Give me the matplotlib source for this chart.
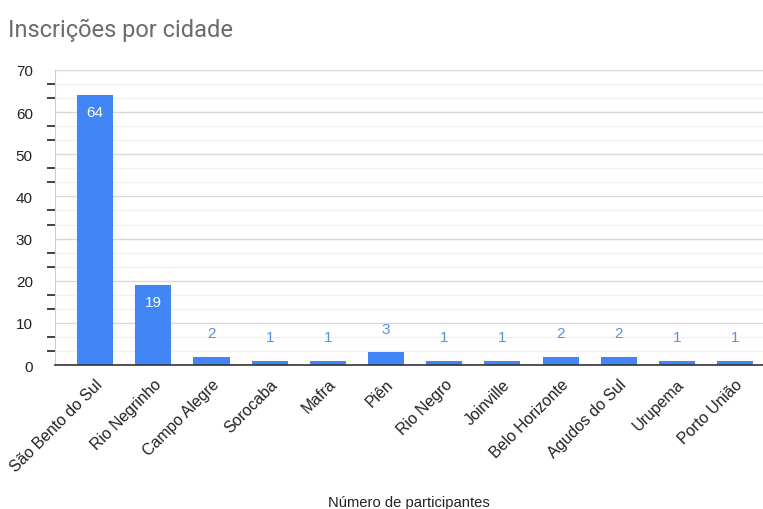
import matplotlib
matplotlib.use("Agg")
import matplotlib.pyplot as plt
from matplotlib.ticker import FixedLocator

cidades = ["São Bento do Sul", "Rio Negrinho", "Campo Alegre", "Sorocaba", "Mafra",
           "Piên", "Rio Negro", "Joinville", "Belo Horizonte", "Agudos do Sul",
           "Urupema", "Porto União"]
participantes = [64, 19, 2, 1, 1, 3, 1, 1, 2, 2, 1, 1]
y_ticks = [0, 10, 20, 30, 40, 50, 60, 70]

plt.rcParams['font.family'] = ['Liberation Sans Narrow', 'Liberation Sans', 'DejaVu Sans']

fig = plt.figure(figsize=(7.63, 5.10), dpi=100)
ax = fig.add_axes([55/763, 1-366/510, 1-55/763, (366-71)/510])

x = list(range(len(cidades)))
bars = ax.bar(x, participantes, width=0.62, color='#4285f4', zorder=3)

for xi, v in zip(x, participantes):
    if v >= 10:
        ax.annotate(str(v), (xi, v), xytext=(0, -12), textcoords='offset points',
                    ha='center', va='center', color='white', fontsize=11, zorder=4)
    else:
        ax.annotate(str(v), (xi, v), xytext=(0, 17), textcoords='offset points',
                    ha='center', va='center', color='#5b8ee6', fontsize=11, zorder=4)

ax.set_xlim(-0.69, 11.48)
ax.set_ylim(0, 70)
ax.yaxis.set_major_locator(FixedLocator(y_ticks))
minor = [m * 10 / 3 for m in range(1, 21) if m % 3 != 0]
ax.yaxis.set_minor_locator(FixedLocator(minor))
ax.grid(axis='y', which='major', color='#d9d9d9', linewidth=1, zorder=0)
ax.grid(axis='y', which='minor', color='#f0f0f0', linewidth=1, zorder=0)
ax.tick_params(axis='y', which='major', length=0, pad=16, labelsize=11, labelcolor='#222222')
ax.tick_params(axis='y', which='minor', length=6, width=1.2, color='#222222', direction='out')
ax.tick_params(axis='x', length=0, pad=8, labelsize=11.4, labelcolor='#222222')

ax.set_xticks(x)
ax.set_xticklabels(cidades, rotation=45, ha='right', va='top', rotation_mode='anchor')

for s in ['top', 'right']:
    ax.spines[s].set_visible(False)
ax.spines['left'].set_color('#cccccc')
ax.spines['bottom'].set_color('#333333')
ax.spines['bottom'].set_linewidth(1.2)
ax.spines['bottom'].set_zorder(5)

fig.text(8/763, 1-30/510, "Inscrições por cidade", fontsize=17, color='#6b6b6b',
         ha='left', va='center', family=['Roboto', 'DejaVu Sans'])
fig.text(409/763, 1-503/510, "Número de participantes", fontsize=10.6, color='#222222',
         ha='center', va='center')

fig.savefig("out.png", dpi=100)
